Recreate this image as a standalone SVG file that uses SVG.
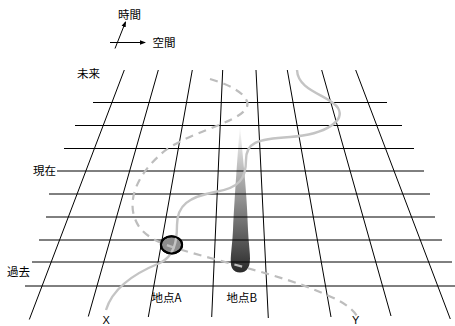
<svg xmlns="http://www.w3.org/2000/svg" width="455" height="326" viewBox="0 0 455 326">
<style>
text{font-family:"Noto Sans CJK JP","Liberation Sans",sans-serif;font-size:11.5px;fill:#000}
.xy{font-family:"Liberation Sans",sans-serif;font-size:11px}
.g{stroke:#000;stroke-width:1;fill:none}
.h{stroke:#000;stroke-width:1;fill:none}
.d{stroke:#bdbdbd;stroke-width:2.2;fill:none;stroke-dasharray:8 6}
.s{stroke:#c4c4c4;stroke-width:2.4;fill:none}
.ax{stroke:#000;stroke-width:1;fill:none}
</style>
<defs>
<linearGradient id="grad" x1="0" y1="0" x2="0" y2="1">
<stop offset="0" stop-color="#ffffff"/>
<stop offset="0.35" stop-color="#b0b0b0"/>
<stop offset="0.8" stop-color="#555"/>
<stop offset="1" stop-color="#2a2a2a"/>
</linearGradient>
<marker id="ah" markerWidth="6" markerHeight="6" refX="5" refY="3" orient="auto" markerUnits="userSpaceOnUse">
<path d="M0,0.8 L6,3 L0,5.2 Z" fill="#000"/>
</marker>
</defs>
<rect width="455" height="326" fill="#fff"/>
<g id="pillarB">
<path d="M240,125 C242,150 247,190 248,230 C249,250 252,262 248,268 C245,274 235,274 232,268 C229,262 232,250 233,230 C235,190 238,150 240,125 Z" fill="url(#grad)"/>
</g>
<g id="grid">
<line class="h" x1="93" y1="102.5" x2="387" y2="102.5"/>
<line class="h" x1="75" y1="125.5" x2="402" y2="125.5"/>
<line class="h" x1="64" y1="148.5" x2="414" y2="148.5"/>
<line class="h" x1="57" y1="171" x2="424" y2="171"/>
<line class="h" x1="49" y1="194" x2="430" y2="194"/>
<line class="h" x1="46" y1="217" x2="435" y2="217"/>
<line class="h" x1="39" y1="240" x2="442" y2="240"/>
<line class="h" x1="32" y1="262" x2="452" y2="262"/>
<line class="h" x1="25" y1="286" x2="455" y2="286"/>
<line class="g" x1="124.3" y1="70" x2="29.3" y2="319.5"/>
<line class="g" x1="158.3" y1="70" x2="88.3" y2="316.5"/>
<line class="g" x1="192.3" y1="70" x2="148.3" y2="317"/>
<line class="g" x1="222.7" y1="70" x2="211.7" y2="317"/>
<line class="g" x1="256" y1="70" x2="268.3" y2="318"/>
<line class="g" x1="287.3" y1="70" x2="331" y2="317"/>
<line class="g" x1="321.7" y1="70" x2="391" y2="316"/>
<line class="g" x1="355.7" y1="70" x2="450.3" y2="319"/>
</g>
<g id="pointA">
<ellipse cx="171.5" cy="244.8" rx="10.6" ry="8.6" fill="#8c8c8c" stroke="#000" stroke-width="2"/>
</g>
<g id="connectors">
<path class="d" d="M210,79 C238,87 254,100 245,110 C234,124 180,135 160,155 C135,177 124,206 140,228 C150,240 165,245 182,250 C230,264 282,276 315,290 C337,299 350,305 357,316"/>
<path class="s" d="M106,310 C113,287 135,273 160,263 C174,256 177,242 177,225 C177,205 189,197 215,192 C240,188 246,178 246,160 C246,143 256,139 290,137 C328,134 345,120 338,108 C330,95 298,92 297,70"/>
<ellipse cx="171.5" cy="244.8" rx="10.6" ry="8.6" fill="none" stroke="#000" stroke-width="2"/>
</g>
<g id="axes">
<line class="ax" x1="115" y1="48.5" x2="125.5" y2="22" marker-end="url(#ah)"/>
<line class="ax" x1="110" y1="42.5" x2="145" y2="42.5" marker-end="url(#ah)"/>
</g>
<g id="labels">
<text x="118" y="18.5">時間</text>
<text x="152.5" y="47">空間</text>
<text x="77" y="78">未来</text>
<text x="33" y="175">現在</text>
<text x="7" y="276">過去</text>
<text x="151.5" y="301.5">地点A</text>
<text x="226.5" y="301.5">地点B</text>
<text class="xy" x="102.5" y="323.5">X</text>
<text class="xy" x="352" y="323.5">Y</text>
</g>
</svg>
